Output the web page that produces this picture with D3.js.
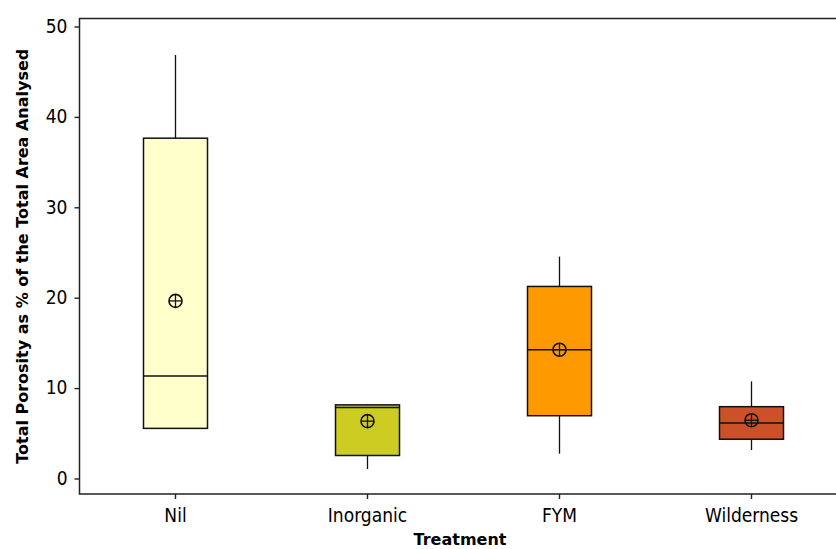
<!DOCTYPE html>
<html>
<head>
<meta charset="utf-8">
<script src="https://cdn.jsdelivr.net/npm/d3@7"></script>
<style>
  html, body { margin: 0; padding: 0; background: #ffffff; }
  svg { display: block; }
  text { font-family: "DejaVu Sans Condensed", "DejaVu Sans", sans-serif; fill: #000; }
  .title { font-family: "DejaVu Sans", sans-serif; font-weight: bold; }
</style>
</head>
<body>
<svg id="chart" width="836" height="549"></svg>
<script>
// Total porosity box plots by treatment
const treatments = ["Nil", "Inorganic", "FYM", "Wilderness"];
const whiskerLow  = [5.6, 1.1, 2.8, 3.2];
const q1          = [5.6, 2.6, 7.0, 4.4];
const medians     = [11.4, 7.9, 14.3, 6.2];
const q3          = [37.7, 8.2, 21.3, 8.0];
const whiskerHigh = [46.9, 8.3, 24.6, 10.8];
const means       = [19.7, 6.4, 14.3, 6.5];
const fills       = ["#ffffcc", "#cccc22", "#ff9900", "#cc5128"];
const yTicks      = [0, 10, 20, 30, 40, 50];

const rows = treatments.map((t, i) => ({
  name: t, lo: whiskerLow[i], q1: q1[i], med: medians[i],
  q3: q3[i], hi: whiskerHigh[i], mean: means[i], fill: fills[i]
}));

const svg = d3.select("#chart");
const plotLeft = 79.5, plotTop = 18.5, plotBottom = 494, plotRight = 847.5;

const x = d3.scaleBand().domain(treatments).range([plotLeft, plotRight]).padding(0);
const y = d3.scaleLinear().domain([0, 50]).range([479, 27]);
const boxW = x.step() / 3;
const cx = d => x(d) + x.bandwidth() / 2;

// y axis ticks and labels
const yAxis = svg.append("g");
yAxis.selectAll("line").data(yTicks).join("line")
  .attr("x1", plotLeft - 5).attr("x2", plotLeft)
  .attr("y1", d => y(d)).attr("y2", d => y(d))
  .attr("stroke", "#222").attr("stroke-width", 1.4);
yAxis.selectAll("text").data(yTicks).join("text")
  .attr("x", plotLeft - 12).attr("y", d => y(d))
  .attr("dy", "0.3em").attr("text-anchor", "end")
  .attr("font-size", 19)
  .text(d => d);

// x axis ticks and labels
const xAxis = svg.append("g");
xAxis.selectAll("line").data(treatments).join("line")
  .attr("x1", d => cx(d)).attr("x2", d => cx(d))
  .attr("y1", plotBottom).attr("y2", plotBottom + 5)
  .attr("stroke", "#222").attr("stroke-width", 1.4);
xAxis.selectAll("text").data(treatments).join("text")
  .attr("x", d => cx(d)).attr("y", 522)
  .attr("text-anchor", "middle")
  .attr("font-size", 19)
  .text(d => d);

// axis titles
svg.append("text").attr("class", "title")
  .attr("x", 460).attr("y", 545)
  .attr("text-anchor", "middle")
  .attr("font-size", 16)
  .text("Treatment");
svg.append("text").attr("class", "title")
  .attr("transform", `translate(28,${(plotTop + plotBottom) / 2}) rotate(-90)`)
  .attr("text-anchor", "middle")
  .attr("font-size", 16)
  .text("Total Porosity as % of the Total Area Analysed");

// boxes
const g = svg.append("g").selectAll("g").data(rows).join("g");
g.append("line")
  .attr("x1", d => cx(d.name)).attr("x2", d => cx(d.name))
  .attr("y1", d => y(d.hi)).attr("y2", d => y(d.q3))
  .attr("stroke", "#111").attr("stroke-width", 1.3);
g.append("line")
  .attr("x1", d => cx(d.name)).attr("x2", d => cx(d.name))
  .attr("y1", d => y(d.q1)).attr("y2", d => y(d.lo))
  .attr("stroke", "#111").attr("stroke-width", 1.3);
g.append("rect")
  .attr("x", d => cx(d.name) - boxW / 2).attr("width", boxW)
  .attr("y", d => y(d.q3)).attr("height", d => y(d.q1) - y(d.q3))
  .attr("fill", d => d.fill)
  .attr("stroke", "#111").attr("stroke-width", 1.5);
g.append("line")
  .attr("x1", d => cx(d.name) - boxW / 2).attr("x2", d => cx(d.name) + boxW / 2)
  .attr("y1", d => y(d.med)).attr("y2", d => y(d.med))
  .attr("stroke", "#111").attr("stroke-width", 1.5);

// mean symbols: circle with crosshair
const r = 6.5;
g.append("circle")
  .attr("cx", d => cx(d.name)).attr("cy", d => y(d.mean)).attr("r", r)
  .attr("fill", "none").attr("stroke", "#111").attr("stroke-width", 1.6);
g.append("line")
  .attr("x1", d => cx(d.name) - r).attr("x2", d => cx(d.name) + r)
  .attr("y1", d => y(d.mean)).attr("y2", d => y(d.mean))
  .attr("stroke", "#111").attr("stroke-width", 1.3);
g.append("line")
  .attr("x1", d => cx(d.name)).attr("x2", d => cx(d.name))
  .attr("y1", d => y(d.mean) - r).attr("y2", d => y(d.mean) + r)
  .attr("stroke", "#111").attr("stroke-width", 1.3);

// plot frame
svg.append("rect")
  .attr("x", plotLeft).attr("y", plotTop)
  .attr("width", plotRight - plotLeft).attr("height", plotBottom - plotTop)
  .attr("fill", "none").attr("stroke", "#222").attr("stroke-width", 1.5);
</script>
</body>
</html>
